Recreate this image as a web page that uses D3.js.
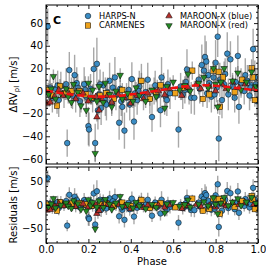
<!DOCTYPE html>
<html>
<head>
<meta charset="utf-8">
<script src="https://cdn.jsdelivr.net/npm/d3@7"></script>
<style>
  body { margin: 0; background: #fff; }
  text { font-family: "DejaVu Sans", sans-serif; }
</style>
</head>
<body>
<div class="chart"></div>
<script>
// [phase, rv, err]
var harps = [
  [0.008, 57, 16], [0.02, 3, 11], [0.03, -6, 13], [0.045, 2, 12], [0.06, -8, 15],
  [0.07, 4, 13], [0.085, -3, 12], [0.095, 6, 14], [0.10, -46, 12], [0.11, 18.5, 16],
  [0.12, 0, 12], [0.135, 14, 18], [0.14, -6, 13], [0.15, 3, 12], [0.16, -9, 14],
  [0.17, -2, 11], [0.18, 6, 15], [0.19, -5, 13], [0.20, -31, 17], [0.203, -34, 15],
  [0.21, 2, 13], [0.22, -7, 12], [0.225, 19.5, 19], [0.232, -46, 17], [0.24, 24, 23],
  [0.245, -17, 17], [0.25, -3, 13], [0.26, -15, 15], [0.27, 5, 12], [0.28, -8, 14],
  [0.29, -1, 13], [0.30, 9, 16], [0.31, -10, 12], [0.325, 12, 18], [0.33, -4, 13],
  [0.345, -28, 15], [0.35, 2, 12], [0.36, -14, 14], [0.37, -35, 16], [0.38, -6, 13],
  [0.39, 1, 11], [0.405, 10.5, 15], [0.415, -27, 16], [0.42, -2, 12], [0.43, -8, 13],
  [0.44, 4, 14], [0.45, 9, 15], [0.46, -5, 12], [0.47, -1, 11], [0.48, 10, 15],
  [0.49, -7, 13], [0.50, -23, 13], [0.51, 0, 12], [0.525, -4, 14], [0.54, -17, 15],
  [0.545, 12, 18], [0.555, 3, 13], [0.565, -5, 12], [0.575, 6, 13], [0.585, -2, 14],
  [0.625, -34, 16], [0.635, 4, 12], [0.645, -3, 13], [0.66, 8, 14], [0.665, 19, 18],
  [0.675, 1, 13], [0.685, -6, 14], [0.70, -6, 15], [0.72, 10, 13], [0.735, 23, 18],
  [0.745, 18, 15], [0.75, 30, 19], [0.756, 26, 18], [0.76, -2, 13], [0.77, 7, 12],
  [0.78, -5, 14], [0.79, 12, 15], [0.80, 25, 20], [0.805, 3, 13], [0.81, 48, 18],
  [0.815, -42, 20], [0.82, 10, 15], [0.83, -8, 16], [0.84, 6, 13], [0.855, 33, 19],
  [0.86, -3, 14], [0.87, 28, 16], [0.88, 4, 12], [0.89, -6, 13], [0.905, 31, 18],
  [0.91, -14, 15], [0.92, 7, 13], [0.935, 0, 12], [0.95, 9, 14], [0.96, -4, 13],
  [0.97, 5, 12], [0.977, 37, 18], [0.985, 12, 15], [0.995, -9, 14],
  [0.015, -2, 12], [0.055, 5, 13], [0.125, -4, 12], [0.145, 7, 14], [0.185, 1, 12],
  [0.255, 6, 13], [0.285, -12, 14], [0.315, 3, 12], [0.355, -9, 13], [0.395, -12, 14],
  [0.435, 0, 12], [0.515, 5, 13], [0.57, -8, 14], [0.655, 1, 12], [0.725, 2, 13],
  [0.765, 14, 15], [0.795, -3, 13], [0.845, 15, 14], [0.895, 8, 13], [0.94, 14, 15],
  [0.965, 3, 12], [0.99, 6, 13]
];

var carmenes = [
  [0.01, 1, 6], [0.035, -4, 7], [0.052, -13, 7], [0.066, 4.5, 6], [0.09, -2, 6],
  [0.12, 0, 6], [0.157, 0, 6], [0.19, -3, 7], [0.215, -6, 6], [0.255, -4, 6],
  [0.285, -2, 7], [0.32, -7, 6], [0.36, 1, 6], [0.40, -5, 7], [0.45, 9, 7],
  [0.49, -7, 6], [0.52, -1, 6], [0.54, 5, 7], [0.61, -2, 6], [0.65, 3, 7],
  [0.69, 18, 8], [0.74, -7, 7], [0.77, -3, 7], [0.79, 18, 8], [0.815, 17, 8],
  [0.82, -14, 7], [0.835, 12, 7], [0.89, -1, 6], [0.925, 10, 7], [0.97, 20, 8],
  [0.975, 12, 6], [0.985, -8, 6]
];

var maroonBlue = [
  [0.005, -11, 4], [0.02, -10, 3], [0.04, -5, 4], [0.06, 1, 3], [0.08, -4, 3],
  [0.11, -3, 4], [0.14, -7, 3], [0.175, -2, 4], [0.20, -9, 3], [0.24, -23, 4],
  [0.235, -5, 3], [0.25, -17, 4], [0.265, -8, 4], [0.29, -4, 3], [0.31, -10, 4],
  [0.34, -3, 3], [0.37, -6, 4], [0.40, -11, 3], [0.43, -4, 4], [0.46, -7, 3],
  [0.48, -2, 4], [0.53, 0, 3], [0.56, -3.5, 4], [0.58, 2, 3], [0.64, -4, 4],
  [0.67, 3, 3], [0.71, 6, 4], [0.73, 2, 3], [0.77, 4, 4], [0.80, 0, 3],
  [0.83, 6, 4], [0.85, 2, 3], [0.88, 8, 4], [0.91, 3, 3], [0.94, 6, 4],
  [0.98, 2, 3]
];

var maroonRed = [
  [0.012, -3, 5], [0.025, 2, 5], [0.035, 13, 6], [0.045, -7, 6], [0.07, -2, 5],
  [0.095, 2, 5], [0.105, -5, 6], [0.12, -10, 5], [0.13, 6, 6], [0.15, -1, 5],
  [0.165, -13, 6], [0.19, -17, 6], [0.20, 7, 6], [0.21, -6, 6], [0.22, 1, 5],
  [0.232, -55, 7], [0.24, -9, 5], [0.25, 4, 6], [0.27, -10, 6], [0.28, 7, 5],
  [0.30, -3, 5], [0.31, -14, 6], [0.33, 0, 5], [0.35, 14, 6], [0.36, -7, 5],
  [0.385, -2, 5], [0.41, -9, 6], [0.425, 3, 5], [0.44, -4, 5], [0.47, -9, 6],
  [0.50, 1, 5], [0.52, -5, 5], [0.56, -15, 6], [0.57, 4, 5], [0.60, 8, 6],
  [0.63, 1, 5], [0.655, 5, 5], [0.67, 15, 6], [0.68, 0, 5], [0.72, 7, 5],
  [0.745, 12, 6], [0.765, 3, 5], [0.79, 20, 6], [0.80, 6, 5], [0.81, -14, 6],
  [0.825, 8, 5], [0.84, 20, 6], [0.86, 2, 5], [0.88, 9, 5], [0.905, 16, 6],
  [0.92, 1, 5], [0.945, 8, 6], [0.97, 17, 6], [0.99, 4, 5]
];

// planet model
var modelPhase = [0, 0.05, 0.1, 0.15, 0.2, 0.25, 0.3, 0.35, 0.4, 0.45, 0.5,
                  0.55, 0.6, 0.65, 0.7, 0.75, 0.8, 0.85, 0.9, 0.95, 1.0];
var modelRV = [0.4, -1.2, -2.6, -3.8, -4.6, -5.0, -4.9, -4.2, -3.0, -1.8, -0.4,
               1.1, 2.6, 3.9, 4.8, 5.1, 4.6, 3.7, 2.6, 1.5, 0.4];

var xTicks = [0, 0.2, 0.4, 0.6, 0.8, 1.0];
var yTopTicks = [-60, -40, -20, 0, 20, 40, 60];
var yBotTicks = [-50, 0, 50];

var W = 266, H = 266;
var left = 46, right = 258;
var top1 = 5, bot1 = 164, top2 = 167, bot2 = 243;

var svg = d3.select(".chart").append("svg")
  .attr("width", W).attr("height", H);

var x = d3.scaleLinear().domain([0, 1]).range([left, right]);
var y1 = d3.scaleLinear().domain([-64.5, 76]).range([bot1, top1]);
var y2 = d3.scaleLinear().domain([-80, 80]).range([bot2, top2]);

var model = d3.scaleLinear().domain(modelPhase).range(modelRV);

function minorsOf(majors, step, lo, hi) {
  var out = [];
  var a = Math.ceil(lo / step), b = Math.floor(hi / step);
  for (var i = a; i <= b; i++) {
    var v = +(i * step).toFixed(6);
    if (majors.indexOf(v) < 0) out.push(v);
  }
  return out;
}

var xMinor = minorsOf(xTicks, 0.05, 0, 1);

function drawAxes(g, y, yMajor, yMinorStep, showX) {
  var yMinor = minorsOf(yMajor, yMinorStep, y.domain()[0], y.domain()[1]);
  var y0 = y.range()[0], yTop = y.range()[1];

  function add(axis, tr) {
    var a = g.append("g").attr("transform", tr).call(axis);
    a.select(".domain").remove();
    a.selectAll("line").attr("stroke", "#000").attr("stroke-width", 0.9);
    a.selectAll("text").attr("font-size", 10).attr("fill", "#000")
      .style("font-family", "DejaVu Sans");
    return a;
  }

  add(d3.axisBottom(x).tickValues(xTicks).tickSize(-4).tickPadding(3.3)
        .tickFormat(showX ? d3.format(".1f") : ""), "translate(0," + y0 + ")");
  add(d3.axisBottom(x).tickValues(xMinor).tickSize(-2).tickFormat(""), "translate(0," + y0 + ")");
  add(d3.axisTop(x).tickValues(xTicks).tickSize(-4).tickFormat(""), "translate(0," + yTop + ")");
  add(d3.axisTop(x).tickValues(xMinor).tickSize(-2).tickFormat(""), "translate(0," + yTop + ")");

  add(d3.axisLeft(y).tickValues(yMajor).tickSize(-4).tickPadding(3)
        .tickFormat(d => d < 0 ? "\u2212" + Math.abs(d) : d), "translate(" + left + ",0)");
  add(d3.axisLeft(y).tickValues(yMinor).tickSize(-2).tickFormat(""), "translate(" + left + ",0)");
  add(d3.axisRight(y).tickValues(yMajor).tickSize(-4).tickFormat(""), "translate(" + right + ",0)");
  add(d3.axisRight(y).tickValues(yMinor).tickSize(-2).tickFormat(""), "translate(" + right + ",0)");

  g.append("rect")
    .attr("x", left).attr("y", yTop)
    .attr("width", right - left).attr("height", y0 - yTop)
    .attr("fill", "none").attr("stroke", "#000").attr("stroke-width", 1);
}

var sets = [
  { data: harps, shape: "circle", fill: "#3a8cc4", name: "HARPS-N" },
  { data: carmenes, shape: "square", fill: "#eea21a", name: "CARMENES" },
  { data: maroonBlue, shape: "up", fill: "#b5302c", name: "MAROON-X (blue)" },
  { data: maroonRed, shape: "down", fill: "#268a26", name: "MAROON-X (red)" }
];

function marker(sel, shape, fill) {
  if (shape === "circle") {
    sel.append("circle").attr("r", 2.8);
  } else if (shape === "square") {
    sel.append("rect").attr("x", -2.7).attr("y", -2.7).attr("width", 5.4).attr("height", 5.4);
  } else {
    sel.append("path")
      .attr("d", d3.symbol().type(d3.symbolTriangle).size(18)())
      .attr("transform", shape === "down" ? "rotate(180)" : null);
  }
  sel.selectAll("circle,rect,path")
    .attr("fill", fill).attr("stroke", "#000").attr("stroke-width", 0.5);
}

function drawPanel(y, val, clipId) {
  var g = svg.append("g").attr("clip-path", "url(#" + clipId + ")");
  sets.forEach(function (s) {
    g.append("g").selectAll("line")
      .data(s.data).enter().append("line")
      .attr("x1", d => x(d[0])).attr("x2", d => x(d[0]))
      .attr("y1", d => y(val(d) - d[2])).attr("y2", d => y(val(d) + d[2]))
      .attr("stroke", "#606060").attr("stroke-opacity", 0.55).attr("stroke-width", 1.4);
    var pts = g.append("g").selectAll("g")
      .data(s.data).enter().append("g")
      .attr("transform", d => "translate(" + x(d[0]) + "," + y(val(d)) + ")");
    marker(pts, s.shape, s.fill);
  });
  return g;
}

var defs = svg.append("defs");
defs.append("clipPath").attr("id", "c1").append("rect")
  .attr("x", left).attr("y", top1).attr("width", right - left).attr("height", bot1 - top1);
defs.append("clipPath").attr("id", "c2").append("rect")
  .attr("x", left).attr("y", top2).attr("width", right - left).attr("height", bot2 - top2);

// top panel: RV vs phase
var g1 = drawPanel(y1, d => d[1], "c1");
g1.append("path")
  .datum(modelPhase.map((p, i) => [p, modelRV[i]]))
  .attr("d", d3.line().x(d => x(d[0])).y(d => y1(d[1])).curve(d3.curveMonotoneX))
  .attr("fill", "none").attr("stroke", "#f01010").attr("stroke-width", 2.6)
  .attr("stroke-dasharray", "7,3.5");

// bottom panel: residuals
var g2 = svg.append("g");
g2.append("line")
  .attr("x1", left).attr("x2", right).attr("y1", y2(0)).attr("y2", y2(0))
  .attr("stroke", "#000").attr("stroke-width", 0.8).attr("stroke-dasharray", "1,2");
drawPanel(y2, d => d[1] - model(d[0]), "c2");

drawAxes(svg.append("g"), y1, yTopTicks, 5, false);
drawAxes(svg.append("g"), y2, yBotTicks, 10, true);

// axis labels
var yl = svg.append("text")
  .attr("transform", "translate(17," + ((top1 + bot1) / 2) + ") rotate(-90)")
  .attr("text-anchor", "middle").attr("font-size", 10);
yl.append("tspan").text("\u0394RV");
yl.append("tspan").attr("font-size", 7).attr("dy", 2).text("pl");
yl.append("tspan").attr("dy", -2).text(" [m/s]");

svg.append("text")
  .attr("transform", "translate(17," + ((top2 + bot2) / 2) + ") rotate(-90)")
  .attr("text-anchor", "middle").attr("font-size", 10)
  .text("Residuals [m/s]");

svg.append("text")
  .attr("x", (left + right) / 2).attr("y", 265)
  .attr("text-anchor", "middle").attr("font-size", 10)
  .text("Phase");

svg.append("text")
  .attr("x", 53).attr("y", 24)
  .attr("font-size", 11).attr("font-weight", "bold")
  .text("C");

// legend
var legPos = [[88, 16], [88, 25.5], [169, 16], [169, 25.5]];
sets.forEach(function (s, i) {
  var lg = svg.append("g").attr("transform", "translate(" + legPos[i][0] + "," + legPos[i][1] + ")");
  marker(lg, s.shape, s.fill);
  lg.append("text").attr("x", 11).attr("y", 2.9)
    .attr("font-size", 8.2).text(s.name);
});
</script>
</body>
</html>
